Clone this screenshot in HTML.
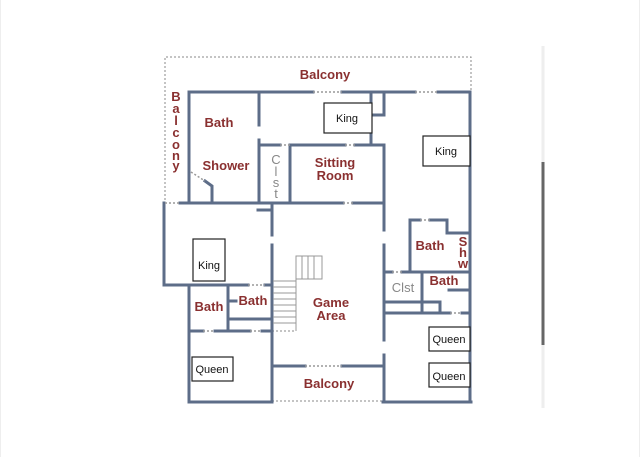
<!DOCTYPE html>
<html><head><style>
html,body{margin:0;padding:0;background:#fff;}
svg{display:block}
text{font-family:"Liberation Sans",sans-serif;}
.l{fill:#8a3030;font-size:13px;font-weight:bold;text-anchor:middle}
.b{fill:#111;font-size:11px;text-anchor:middle}
</style></head><body>
<svg width="640" height="457" viewBox="0 0 640 457">
<line x1="0.5" y1="0" x2="0.5" y2="457" stroke="#eee"/>
<line x1="639.5" y1="0" x2="639.5" y2="457" stroke="#eee"/>
<line x1="543" y1="46" x2="543" y2="408" stroke="#eee" stroke-width="3"/>
<line x1="543" y1="162" x2="543" y2="345" stroke="#666" stroke-width="3"/>
<g stroke="#888" stroke-width="1" stroke-dasharray="2,2" fill="none">
<path d="M165 200 V57 H471 V92"/>
<line x1="272" y1="401" x2="383" y2="401"/>
<path d="M272 331 H296 V280"/>
</g>
<g stroke="#5d6d88" stroke-width="3" fill="none" stroke-linecap="square">
<path d="M189 92 H313 M342 92 H415 M438 92 H470 V402"/>
<path d="M189 92 V203"/>
<path d="M259 92 V125 M259 140 V203"/>
<path d="M371 92 V145 M384 92 V115 H371"/>
<path d="M260 145 H280 M290 145 H345 M355 145 H384 V230 M384 245 V340 M384 355 V402"/>
<path d="M290 145 V203"/>
<path d="M180 203 H343 M353 203 H383"/>
<path d="M164 203 V285 H248 M265 285 H270"/>
<path d="M212 203 V186 L205 181"/>
<path d="M272 203 V235 M272 245 V402 M258 210 H272"/>
<path d="M189 285 V402 H272 M383 402 H471"/>
<path d="M189 331 H203 M215 331 H250 M262 331 H270"/>
<path d="M228 285 V331 M228 301 H236 M228 319 H270"/>
<path d="M272 366 H305 M342 366 H383"/>
<path d="M410 272 V220 H420 M430 220 H447 V233 H470"/>
<path d="M384 272 H392 M402 272 H470"/>
<path d="M422 272 V313 M384 302 H440 V313 M384 313 H450 M462 313 H470 M449 290 H470"/>
</g>
<g stroke="#999" stroke-width="1.5" stroke-dasharray="2,2" fill="none">
<path d="M313 92 H342 M415 92 H438 M165 203 H180 M343 203 H353 M280 145 H290 M345 145 H355 M305 366 H342 M392 272 H402 M420 220 H430 M450 313 H462 M248 285 H265 M203 331 H215 M250 331 H262 M191 172 L205 181"/>
</g>
<g stroke="#999" stroke-width="1" fill="none">
<path d="M296 256 H322 V279 H296 Z M302 256 V279 M308 256 V279 M314 256 V279"/>
<path d="M273 281 H296 M273 287 H296 M273 293 H296 M273 299 H296 M273 305 H296 M273 311 H296 M273 317 H296 M273 323 H296 M296 256 V331"/>
</g>
<g stroke="#222" stroke-width="1.2" fill="#fff">
<rect x="324" y="103" width="48" height="30"/>
<rect x="423" y="136" width="47" height="30"/>
<rect x="193" y="239" width="32" height="42"/>
<rect x="192" y="357" width="41" height="24"/>
<rect x="429" y="327" width="41" height="24"/>
<rect x="429" y="363" width="41" height="24"/>
</g>
<text class="b" x="347" y="122">King</text>
<text class="b" x="446" y="155">King</text>
<text class="b" x="209" y="269">King</text>
<text class="b" x="212" y="373">Queen</text>
<text class="b" x="449" y="343">Queen</text>
<text class="b" x="449" y="380">Queen</text>
<text class="l" x="325" y="79">Balcony</text>
<g class="l"><text class="l" x="176" y="101">B</text><text class="l" x="176" y="113">a</text><text class="l" x="176" y="125">l</text><text class="l" x="176" y="137">c</text><text class="l" x="176" y="149">o</text><text class="l" x="176" y="160">n</text><text class="l" x="176" y="170">y</text></g>
<text class="l" x="219" y="127">Bath</text>
<text class="l" x="226" y="170">Shower</text>
<g fill="#888" font-size="13" text-anchor="middle"><text x="276" y="164">C</text><text x="276" y="176">l</text><text x="276" y="187">s</text><text x="276" y="198">t</text></g>
<text class="l" x="335" y="167">Sitting</text>
<text class="l" x="335" y="180">Room</text>
<text class="l" x="430" y="250">Bath</text>
<g class="l"><text class="l" x="463" y="246">S</text><text class="l" x="463" y="257">h</text><text class="l" x="463" y="268">w</text></g>
<text class="l" x="444" y="285">Bath</text>
<text x="403" y="292" fill="#888" font-size="13" text-anchor="middle">Clst</text>
<text class="l" x="209" y="311">Bath</text>
<text class="l" x="253" y="305">Bath</text>
<text class="l" x="331" y="307">Game</text>
<text class="l" x="331" y="320">Area</text>
<text class="l" x="329" y="388">Balcony</text>
</svg>
</body></html>
